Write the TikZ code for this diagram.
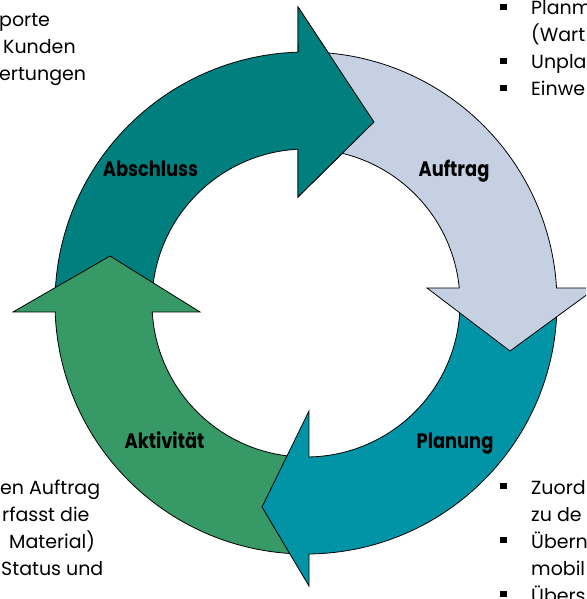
\documentclass[tikz,border=0pt]{standalone}
\usepackage{fontspec}
\setmainfont{Poppins}
\newfontfamily\phasefont[FakeStretch=0.85]{Poppins}
\usepackage{tikz}
\usetikzlibrary{calc, arrows.meta, positioning}
\definecolor{cAbschluss}{HTML}{007F7F}
\definecolor{cAuftrag}{HTML}{C5D0E3}
\definecolor{cPlanung}{HTML}{0094A6}
\definecolor{cAktiv}{HTML}{369966}
\newcommand{\rOut}{251}
\newcommand{\rIn}{154}
\newcommand{\drawA}[7]{
    \draw[ring, fill=#1] (#2:\rOut) arc[start angle=#2, end angle=#3, radius=\rOut]
        -- (#4) -- (#5) -- (#6) -- (#7:\rIn) arc[start angle=#7, end angle=#2, radius=\rIn] -- cycle;
}
\newcommand{\drawL}[4]{
    \node[phase] (#1) at (#2,#3) {#4};
}
\newcommand{\drawN}[5]{
    \node[note, anchor=#2] (#1) at (#3,#4) {#5};
}
\newcommand{\drawB}[3]{
    \node[bullet] (#1) at (#2,#3) {};
}

\begin{document}
\begin{tikzpicture}[x=1pt, y=1pt,
    ring/.style={draw=black, line width=0.8pt, line join=miter},
    phase/.style={anchor=base, inner sep=0pt, font=\fontsize{21}{24}\phasefont\bfseries},
    note/.style={inner sep=0pt, font=\fontsize{19}{22}\selectfont},
    bullet/.style={fill=black, inner sep=0pt, minimum size=6.5pt}]
        \useasboundingbox (-306,-296) rectangle (280,303);
        \clip (-306,-296) rectangle (280,303);
        % Ring
        \drawA{cAbschluss}{178}{91.8}{-8,296}{68,181}{-8,106}{93}
        \drawA{cAktiv}{268}{182.05}{-293,-9}{-196,47}{-106,-9}{183.35}
        \drawA{cPlanung}{-2}{-89.3}{3,-283}{-44,-204}{3,-108}{-88.9}
        \drawA{cAuftrag}{88}{3.43}{290,15}{204,-48}{121,15}{5.59}
        % Kopf oben nochmal
        \fill[cAbschluss] (-8,296) -- (68,181) -- (-8,106) -- cycle;
        \draw[ring] (91.8:\rOut) -- (-8,296) -- (68,181) -- (-8,106) -- (93:\rIn);
        % Phasen
        \drawL{abschluss}{-155.5}{126}{Abschluss}
        \drawL{auftrag}{148}{126}{Auftrag}
        \drawL{planung}{149}{-145}{Planung}
        \drawL{aktiv}{-141.5}{-145}{Aktivität}
        % Texte links
        \drawN{tl1}{base west}{-307}{276}{porte}
        \drawN{tl2}{base west}{-303}{249}{Kunden}
        \drawN{tl3}{base west}{-307}{222}{ertungen}
        \drawN{bl1}{base west}{-306}{-191}{en Auftrag}
        \drawN{bl2}{base west}{-304}{-218}{rfasst die}
        \drawN{bl3}{base west}{-297}{-245}{Material)}
        \drawN{bl4}{base west}{-305}{-272}{Status und}
        % Texte rechts
        \drawB{b1}{197.5}{296}
        \drawB{b2}{197.5}{242}
        \drawB{b3}{197.5}{215}
        \drawN{tr1}{base west}{225}{288}{Planm}
        \drawN{tr2}{base west}{225}{261}{(Wart}
        \drawN{tr3}{base west}{225}{234}{Unpla}
        \drawN{tr4}{base west}{225}{207}{Einwe}
        \drawB{b4}{197.5}{-183}
        \drawB{b5}{197.5}{-237}
        \drawB{b6}{197.5}{-291}
        \drawN{br1}{base west}{225}{-191}{Zuord}
        \drawN{br2}{base west}{225}{-218}{zu de}
        \drawN{br3}{base west}{225}{-245}{Übern}
        \drawN{br4}{base west}{225}{-272}{mobil}
        \drawN{br5}{base west}{225}{-299}{Übers}
\end{tikzpicture}
\end{document}
